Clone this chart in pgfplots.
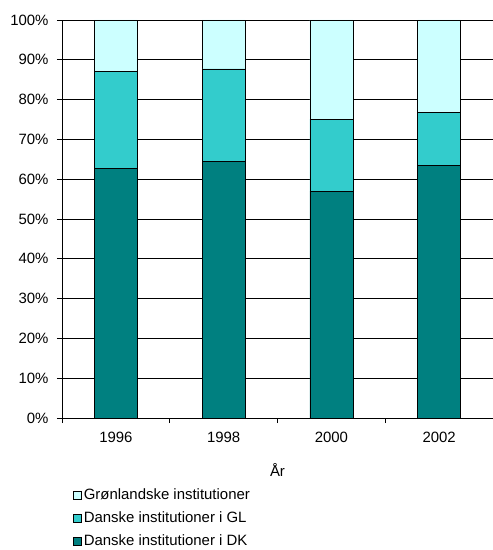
\documentclass[border=0pt]{standalone}
\usepackage{pgfplots}
\pgfplotsset{compat=1.18}
\usepackage{fontspec}
\setmainfont{Liberation Sans}
\definecolor{cDK}{HTML}{008080}
\definecolor{cGL}{HTML}{33CCCC}
\definecolor{cGR}{HTML}{CCFFFF}
\begin{document}
\begin{tikzpicture}
\useasboundingbox (0,0) rectangle (493bp,550bp);
\begin{axis}[
  at={(62bp,132bp)}, anchor=south west,
  scale only axis, width=431bp, height=398bp,
  ybar stacked, bar width=0.4,
  xmin=-0.5, xmax=3.5, ymin=0, ymax=100,
  axis lines=left, axis line style={-, black, line width=0.8pt},
  xtick={-0.5,0.5,1.5,2.5,3.5}, xticklabels={},
  extra x ticks={0,1,2,3}, extra x tick labels={1996,1998,2000,2002},
  extra x tick style={major tick length=0pt, xticklabel style={yshift=-11bp}},
  ytick={0,10,...,100},
  yticklabels={0\%,10\%,20\%,30\%,40\%,50\%,60\%,70\%,80\%,90\%,100\%},
  yticklabel style={xshift=-5bp},
  tick align=outside, major tick length=5bp,
  tick style={black, line width=0.8pt},
  ymajorgrids, major grid style={black, line width=0.8pt},
  font=\fontsize{15}{18}\selectfont,
  tick label style={font=\fontsize{15}{18}\selectfont},
  xlabel={År}, xlabel style={yshift=-9bp},
  reverse legend,
  legend style={draw=none, fill=none, at={(0.0255,-0.173)}, anchor=north west,
    font=\fontsize{15}{18}\selectfont, row sep=6.5bp, inner sep=0pt,
    cells={anchor=west}},
  legend image code/.code={\draw[#1, draw=black, line width=0.6pt] (0bp,-4bp) rectangle (8bp,4bp);},
  every axis plot/.append style={draw=black, line width=0.6pt},
]
\addplot[fill=cDK] coordinates {(0,62.7) (1,64.5) (2,57.0) (3,63.5)};
\addplot[fill=cGL] coordinates {(0,24.4) (1,23.2) (2,18.1) (3,13.3)};
\addplot[fill=cGR] coordinates {(0,12.9) (1,12.3) (2,24.9) (3,23.2)};
\legend{Danske institutioner i DK, Danske institutioner i GL, Grønlandske institutioner}
\end{axis}
\end{tikzpicture}
\end{document}
